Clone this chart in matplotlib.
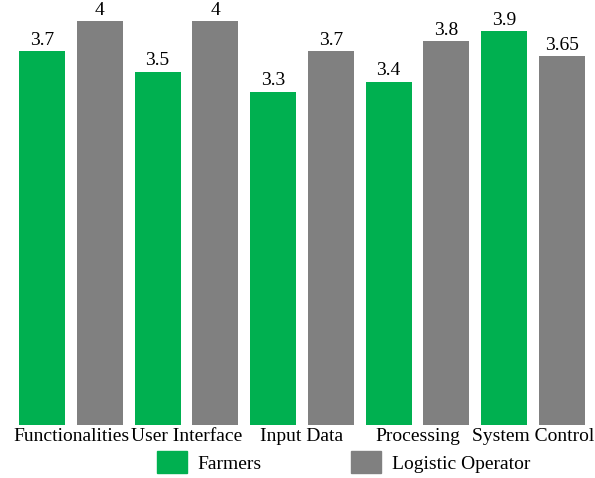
import numpy as np
import matplotlib.pyplot as plt
from matplotlib.patches import Patch

categories = ["Functionalities", "User Interface", "Input Data", "Processing", "System Control"]
farmers = [3.7, 3.5, 3.3, 3.4, 3.9]
logistic = [4, 4, 3.7, 3.8, 3.65]
farmer_labels = ["3.7", "3.5", "3.3", "3.4", "3.9"]
logistic_labels = ["4", "4", "3.7", "3.8", "3.65"]

green = "#00B050"
gray = "#808080"

plt.rcParams["font.family"] = ["Liberation Serif", "DejaVu Serif"]

fig = plt.figure(figsize=(5.95, 4.78), dpi=100)
# axes span the bars exactly, 0 at 425px from top
ax = fig.add_axes([19 / 595, 1 - 425 / 478, 566 / 595, 425 / 478])

x = np.arange(len(categories)) * 2
b1 = ax.bar(x, farmers, width=0.8, color=green)
b2 = ax.bar(x + 1, logistic, width=0.8, color=gray)

for bars, labs in ((b1, farmer_labels), (b2, logistic_labels)):
    for r, lab in zip(bars, labs):
        ax.annotate(lab, (r.get_x() + r.get_width() / 2, r.get_height()),
                    xytext=(0, 4.5), textcoords="offset points",
                    ha="center", va="baseline", fontsize=14)

ax.set_xlim(-0.4, 9.4)
ax.set_ylim(0, 425 / 101)
ax.set_xticks(x + 0.5)
ax.set_xticklabels(categories, fontsize=14)
ax.tick_params(axis="x", length=0, pad=2)
ax.set_yticks([])
for s in ax.spines.values():
    s.set_visible(False)

handles = [Patch(color=green, label="Farmers"), Patch(color=gray, label="Logistic Operator")]
fig.legend(handles=handles, loc="upper left", bbox_to_anchor=(157 / 595, 1 - 451 / 478),
           ncol=2, frameon=False, fontsize=14, borderpad=0, borderaxespad=0,
           handlelength=1.54, handleheight=1.39, handletextpad=0.55, columnspacing=4.6)

fig.savefig("out.png", dpi=100)
